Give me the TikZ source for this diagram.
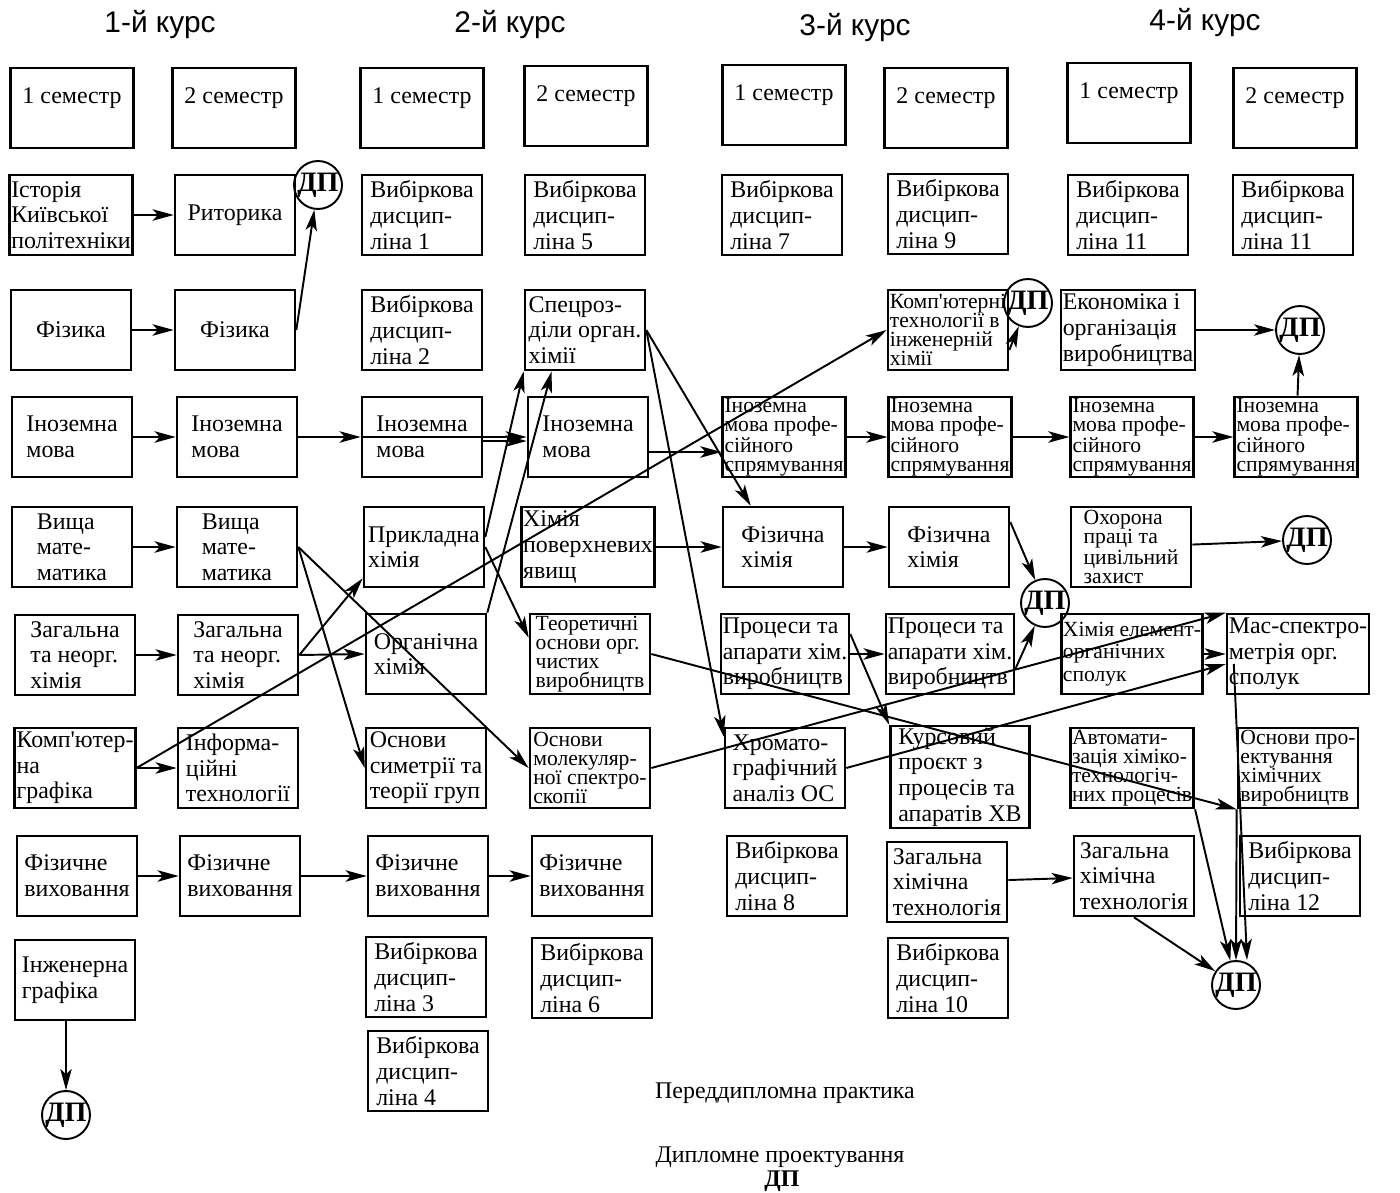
\documentclass[tikz,border=0pt]{standalone}
\usepackage{fontspec}
\setmainfont{Liberation Serif}[Ligatures=TeXOff]
\newfontfamily\hdfont{Liberation Sans}
\usetikzlibrary{arrows.meta}

\begin{document}
\begin{tikzpicture}[x=0.02cm,y=-0.02cm,>={Stealth[length=12pt,width=6.5pt,inset=3pt]},line width=1.1pt]
  \tikzstyle{box}=[draw, line width=1.5pt, minimum width=2.4cm, minimum height=1.6cm, align=left,
    inner sep=1pt, font=\fontsize{13.6}{14.6}\selectfont]
  \tikzstyle{sbox}=[box, inner ysep=0pt, font=\fontsize{12.3}{10.9}\selectfont]
  \tikzstyle{sem}=[box, minimum width=2.46cm, text depth=14pt]
  \tikzstyle{dp}=[draw, circle, line width=1.1pt, minimum size=0.96cm, inner sep=0pt,
    font=\fontsize{16}{16}\selectfont\bfseries]
  \tikzstyle{year}=[font=\hdfont\fontsize{17}{20}\selectfont]
  \tikzstyle{note}=[font=\fontsize{13.6}{14.6}\selectfont]

  \useasboundingbox (0,0) rectangle (1400,1193);

  \node[year] (y1) at (160,25) {1-й курс};
  \node[year] (y2) at (510,25) {2-й курс};
  \node[year] (y3) at (855,28) {3-й курс};
  \node[year] (y4) at (1205,23) {4-й курс};

  \node[sem] (s1) at (72,108) {1 семестр};
  \node[sem] (s2) at (234,108) {2 семестр};
  \node[sem] (s3) at (422,108) {1 семестр};
  \node[sem] (s4) at (586,106) {2 семестр};
  \node[sem] (s5) at (784,105) {1 семестр};
  \node[sem] (s6) at (946,108) {2 семестр};
  \node[sem] (s7) at (1129,103) {1 семестр};
  \node[sem] (s8) at (1295,108) {2 семестр};

  \node[box] (ist) at (71,215) {Історія\\Київської\\політехніки};
  \node[box] (rit) at (235,215) {Риторика};
  \node[dp] (dp1) at (318,185) {ДП};
  \node[box] (vd1) at (422,215) {Вибіркова\\дисцип-\\ліна 1};
  \node[box] (vd5) at (585,215) {Вибіркова\\дисцип-\\ліна 5};
  \node[box] (vd7) at (782,215) {Вибіркова\\дисцип-\\ліна 7};
  \node[box] (vd9) at (948,214) {Вибіркова\\дисцип-\\ліна 9};
  \node[box] (vd11a) at (1128,215) {Вибіркова\\дисцип-\\ліна 11};
  \node[box] (vd11b) at (1293,215) {Вибіркова\\дисцип-\\ліна 11};

  \node[box] (fiz1) at (71,330) {Фізика};
  \node[box] (fiz2) at (235,330) {Фізика};
  \node[box] (vd2) at (422,330) {Вибіркова\\дисцип-\\ліна 2};
  \node[box] (spec) at (585,330) {Спецроз-\\діли орган.\\хімії};
  \node[sbox] (kt) at (948,330) {Комп'ютерні\\технології в\\інженерній\\хімії};
  \node[dp] (dp2) at (1028,303) {ДП};
  \node[box] (econ) at (1128,330) {Економіка і\\організація\\виробництва};
  \node[dp] (dp3) at (1300,330) {ДП};

  \node[box] (in1) at (72,437) {Іноземна\\мова};
  \node[box] (in2) at (237,437) {Іноземна\\мова};
  \node[box] (in3) at (422,437) {Іноземна\\мова};
  \node[box] (in4) at (588,437) {Іноземна\\мова};
  \node[sbox] (in5) at (784,437) {Іноземна\\мова профе-\\сійного\\спрямування};
  \node[sbox] (in6) at (950,437) {Іноземна\\мова профе-\\сійного\\спрямування};
  \node[sbox] (in7) at (1132,437) {Іноземна\\мова профе-\\сійного\\спрямування};
  \node[sbox] (in8) at (1296,437) {Іноземна\\мова профе-\\сійного\\спрямування};

  \node[box] (vm1) at (72,547) {Вища\\мате-\\матика};
  \node[box] (vm2) at (237,547) {Вища\\мате-\\матика};
  \node[box] (ph) at (424,547) {Прикладна\\ хімія};
  \node[box] (hp) at (588,547) {Хімія\\поверхневих\\явищ};
  \node[box] (fh5) at (783,547) {Фізична\\хімія};
  \node[box] (fh6) at (949,547) {Фізична\\хімія};
  \node[sbox] (ohr) at (1131,547) {Охорона\\праці та\\цивільний\\захист};
  \node[dp] (dp4) at (1307,540) {ДП};
  \node[dp] (dp5) at (1045,603) {ДП};

  \node[box] (zn1) at (75,655) {Загальна\\та неорг.\\хімія};
  \node[box] (zn2) at (238,655) {Загальна\\та неорг.\\хімія};
  \node[box] (org) at (426,654) {Органічна\\хімія};
  \node[sbox] (teor) at (590,654) {Теоретичні\\основи орг.\\чистих\\виробництв};
  \node[box] (pa5) at (785,654) {Процеси та\\апарати хім.\\виробництв};
  \node[box] (pa6) at (950,654) {Процеси та\\апарати хім.\\виробництв};
  \node[box, font=\fontsize{12.3}{12.8}\selectfont] (heo) at (1132,654) {Хімія елемент-\\органічних\\сполук};
  \node[box] (mas) at (1298,654) {Мас-спектро-\\метрія орг.\\сполук};

  \node[box] (kg) at (75,768) {Комп'ютер-\\на\\графіка};
  \node[box] (it) at (238,768) {Інформа-\\ційні\\технології};
  \node[box] (sym) at (426,768) {Основи\\симетрії та\\теорії груп};
  \node[sbox] (mol) at (590,768) {Основи\\молекуляр-\\ної спектро-\\скопії};
  \node[box] (hrom) at (785,768) {Хромато-\\графічний\\аналіз ОС};
  \node[box, minimum width=2.78cm, minimum height=1.84cm] (kurs) at (960,777) {Курсовий\\проєкт з\\процесів та\\апаратів ХВ};
  \node[sbox] (avt) at (1132,768) {Автомати-\\зація хіміко-\\технологіч-\\них процесів};
  \node[sbox] (osp) at (1298,768) {Основи про-\\ектування\\хімічних\\виробництв};

  \node[box] (fv1) at (77,876) {Фізичне\\виховання};
  \node[box] (fv2) at (240,876) {Фізичне\\виховання};
  \node[box] (fv3) at (428,876) {Фізичне\\виховання};
  \node[box] (fv4) at (592,876) {Фізичне\\виховання};
  \node[box] (vd8) at (787,876) {Вибіркова\\дисцип-\\ліна 8};
  \node[box] (zht6) at (947,882) {Загальна\\хімічна\\технологія};
  \node[box] (zht7) at (1134,876) {Загальна\\хімічна\\ технологія};
  \node[box] (vd12) at (1300,876) {Вибіркова\\дисцип-\\ліна 12};

  \node[box] (ig) at (75,980) {Інженерна\\графіка};
  \node[box] (vd3) at (426,977) {Вибіркова\\дисцип-\\ліна 3};
  \node[box] (vd6) at (592,978) {Вибіркова\\дисцип-\\ліна 6};
  \node[box] (vd10) at (948,978) {Вибіркова\\дисцип-\\ліна 10};
  \node[dp] (dp6) at (1236,985) {ДП};
  \node[box] (vd4) at (428,1071) {Вибіркова\\дисцип-\\ліна 4};
  \node[dp] (dp7) at (66,1115) {ДП};

  \node[note] (prac) at (785,1093) {Переддипломна практика};
  \node[note] (dipl) at (780,1157) {Дипломне проектування};
  \node[note, font=\fontsize{13.6}{14.6}\selectfont\bfseries] (dpt) at (782,1181) {ДП};

  \draw[->] (ist) -- (rit);
  \draw[->] (fiz1) -- (fiz2);
  \draw[->] (fiz2.east) -- (dp1);
  \draw[->] (in1) -- (in2);
  \draw[->] (in2) -- (in3);
  \draw[->] (in3.west) -- (in4.west);
  \draw[->] ([yshift=-0.08cm]in3.east) -- ([yshift=-0.08cm]in4.west);
  \draw[->] ([yshift=-0.3cm]in4.east) -- ([yshift=-0.3cm]in5.west);
  \draw[->] (in5) -- (in6);
  \draw[->] (in6) -- (in7);
  \draw[->] (in7) -- (in8);
  \draw[->] (in8) -- (dp3);
  \draw[->] (econ) -- (dp3);
  \draw[->] (vm1) -- (vm2);
  \draw[->] (zn1) -- (zn2);
  \draw[->] (kg) -- (it);
  \draw[->] (fv1) -- (fv2);
  \draw[->] (fv2) -- (fv3);
  \draw[->] (fv3) -- (fv4);
  \draw[->] (ig.south -| dp7) -- (dp7);

  \draw[->] (vm2.east) -- (sym.west);
  \draw[->] (vm2.east) -- (mol.west);
  \draw[->] (zn2.east) -- (org.west);
  \draw[->] (zn2.east) -- ([yshift=0.2cm]ph.south west);
  \draw[->] (kg.east) -- (kt.west);
  \draw[->] (ph.east) -- ([yshift=-0.5cm]teor.north west);
  \draw[->] ([yshift=0.2cm]ph.east) -- (spec.south west);
  \draw[->] (org.north east) -- ([xshift=0.56cm]spec.south west);
  \draw[->] (spec.east) -- ([xshift=0.58cm]fh5.north west);
  \draw[->] (spec.east) -- ([yshift=-0.2cm]hrom.north west);
  \draw[->] (hp) -- (fh5);
  \draw[->] (fh5) -- (fh6);
  \draw[->] ([yshift=0.5cm]fh6.east) -- (dp5);
  \draw[->] (pa5) -- (pa6);
  \draw[->] ([yshift=0.4cm]pa5.east) -- (kurs.north west);
  \draw[->] ([yshift=-0.3cm]pa6.east) -- (dp5);
  \draw[->] (teor.east) -- (osp.south west);
  \draw[->] (mol.east) -- (mas.north west);
  \draw[->] (hrom.east) -- ([yshift=-0.2cm]mas.west);
  \draw[->] (heo) -- (mas);
  \draw[->] ([yshift=-0.4cm]kt.east) -- (dp2);
  \draw[->] (ohr) -- (dp4);
  \draw[->] (zht6) -- (zht7);
  \draw[->] ([shift={(0.16cm,-0.2cm)}]mas.west) -- ([xshift=0.22cm]dp6.north);
  \draw[->] (osp.south west) -- (dp6.north);
  \draw[->] (avt.south east) -- (dp6);
  \draw[->] (zht7.south) -- (dp6);
\end{tikzpicture}
\end{document}
